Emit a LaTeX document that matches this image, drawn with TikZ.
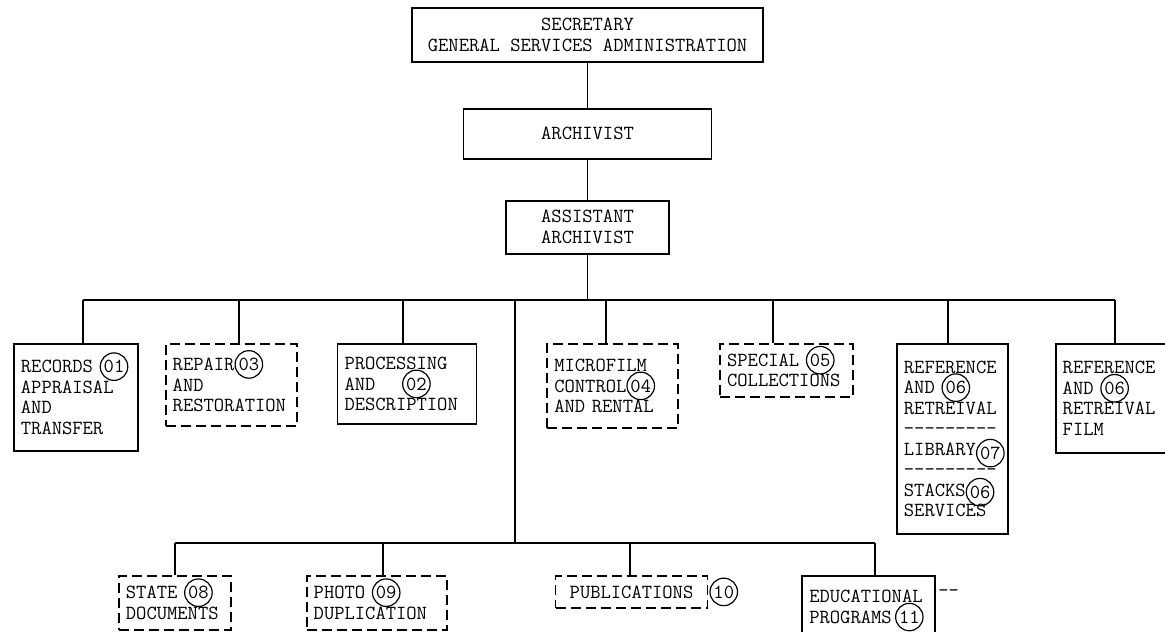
\documentclass[tikz,border=0pt]{standalone}
\usepackage{fontspec}
\usetikzlibrary{positioning}
\newcommand\typer{\ttfamily\fontsize{20}{20.5}\selectfont}
\newcommand\circnum[2][0pt]{\smash{\raisebox{#1}{\tikz[baseline=(n.base)]\node[circle,draw=black,solid,line width=1.2pt,inner sep=1.2pt,text width=,minimum width=0pt,minimum height=0pt,align=center,font=\typer] (n) {#2};}}}
\begin{document}
\begin{tikzpicture}[x=1pt,y=1pt,
		box/.style={rectangle,draw=black,line width=1.8pt,inner xsep=7pt,inner ysep=4pt,align=left,font=\typer},
		dbox/.style={box,dash pattern=on 10pt off 5pt},
		link/.style={line width=1.8pt}]
		\useasboundingbox (0,0) rectangle (1165,-632);
		\node[box,align=center,minimum width=351pt,minimum height=54pt] (1) at (587.5,-35) {SECRETARY\\GENERAL SERVICES ADMINISTRATION};
		\node[box,align=center,minimum width=248pt,minimum height=50pt,below=45pt of 1] (2) {ARCHIVIST};
		\node[box,align=center,minimum width=163pt,minimum height=53pt,below=40pt of 2] (3) {ASSISTANT\\ARCHIVIST};
		\node[box,text width=110pt,minimum height=107pt,anchor=north west] (4) at (13,-343) {RECORDS \circnum{01}\\APPRAISAL\\AND\\TRANSFER};
		\node[dbox,text width=117pt,minimum height=82pt,right=26pt of 4.north east,anchor=north west] (5) {REPAIR\circnum{03}\\AND\\RESTORATION};
		\node[box,text width=125pt,minimum height=80pt,right=39pt of 5.north east,anchor=north west] (6) {PROCESSING\\AND\ \ \ \ \circnum{02}\\DESCRIPTION};
		\node[dbox,text width=117pt,minimum height=84pt,right=69pt of 6.north east,anchor=north west] (7) {MICROFILM\\CONTROL\circnum{04}\\AND RENTAL};
		\node[dbox,text width=119pt,minimum height=53pt,right=40pt of 7.north east,anchor=north west] (8) {SPECIAL \circnum{05}\\COLLECTIONS};
		\node[box,text width=97pt,minimum height=190pt,right=42pt of 8.north east,anchor=north west] (9) {REFERENCE\\AND \circnum{06}\\RETREIVAL\\-{}-{}-{}-{}-{}-{}-{}-{}-\\LIBRARY\circnum[-4pt]{07}\\-{}-{}-{}-{}-{}-{}-{}-{}-\\STACKS\circnum[-2pt]{06}\\SERVICES};
		\node[box,text width=106pt,minimum height=109pt,right=46pt of 9.north east,anchor=north west] (10) {REFERENCE\\AND \circnum{06}\\RETREIVAL\\FILM};
		\node[dbox,text width=98pt,minimum height=54pt,anchor=north west] (11) at (118,-575) {STATE \circnum{08}\\DOCUMENTS};
		\node[dbox,text width=126pt,minimum height=54pt,right=74pt of 11.north east,anchor=north west] (12) {PHOTO \circnum{09}\\DUPLICATION};
		\node[dbox,minimum width=152pt,minimum height=32pt,right=107pt of 12.north east,anchor=north west] (13) {PUBLICATIONS};
		\node[circle,draw=black,line width=1.2pt,inner sep=1.2pt,font=\typer,right=1pt of 13] (14) {10};
		\node[box,text width=119pt,minimum height=62pt,right=93pt of 13.north east,anchor=north west] (15) {EDUCATIONAL\\PROGRAMS\,\circnum{11}};
		\node[font=\typer,inner sep=0pt,right=2pt of 15.north east,yshift=-18pt] (16) {-{}-};

		\coordinate (t4) at (83,-300);
		\coordinate (t5) at (239,-300);
		\coordinate (t6) at (403,-300);
		\coordinate (t7) at (606,-300);
		\coordinate (t8) at (773,-300);
		\coordinate (t9) at (948,-300);
		\coordinate (t10) at (1115,-300);
		\coordinate (m) at (515,-300);
		\coordinate (u) at (515,-543);
		\coordinate (t11) at (175,-543);
		\coordinate (t12) at (383,-543);
		\coordinate (t13) at (630,-543);
		\coordinate (t15) at (875,-543);

		\draw[link] (1) -- (2);
		\draw[link] (2) -- (3);
		\draw[link] (3) -- (3 |- t4);
		\draw[link] (t4) -- (t10);
		\draw[link] (t4) -- (t4 |- 4.north);
		\draw[link] (t5) -- (t5 |- 5.north);
		\draw[link] (t6) -- (t6 |- 6.north);
		\draw[link] (t7) -- (t7 |- 7.north);
		\draw[link] (t8) -- (t8 |- 8.north);
		\draw[link] (t9) -- (t9 |- 9.north);
		\draw[link] (t10) -- (t10 |- 10.north);
		\draw[link] (m) -- (u);
		\draw[link] (t11) -- (t15);
		\draw[link] (t11) -- (t11 |- 11.north);
		\draw[link] (t12) -- (t12 |- 12.north);
		\draw[link] (t13) -- (t13 |- 13.north);
		\draw[link] (t15) -- (t15 |- 15.north);
	\end{tikzpicture}
\end{document}
